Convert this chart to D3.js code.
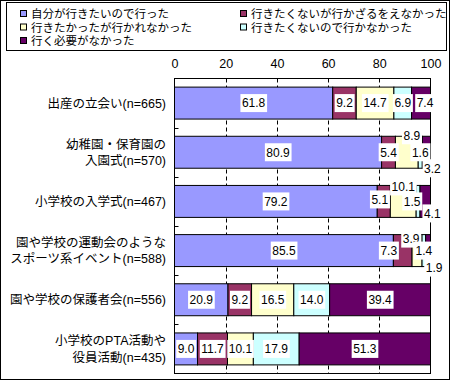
<!DOCTYPE html>
<html><head><meta charset="utf-8">
<script src="https://cdn.jsdelivr.net/npm/d3@7"></script>
<style>
html,body{margin:0;padding:0;background:#fff;}
svg{display:block;font-family:"Liberation Sans","Noto Sans CJK JP",sans-serif;}
</style></head>
<body>
<svg id="chart" width="450" height="380"></svg>
<script>
const categories = [
  "出産の立会い(n=665)",
  "幼稚園・保育園の\n入園式(n=570)",
  "小学校の入学式(n=467)",
  "園や学校の運動会のような\nスポーツ系イベント(n=588)",
  "園や学校の保護者会(n=556)",
  "小学校のPTA活動や\n役員活動(n=435)"
];
const seriesNames = [
  "自分が行きたいので行った",
  "行きたくないが行かざるをえなかった",
  "行きたかったが行かれなかった",
  "行きたくないので行かなかった",
  "行く必要がなかった"
];
const s1 = [61.8, 80.9, 79.2, 85.5, 20.9, 9.0];
const s2 = [9.2, 5.4, 5.1, 7.3, 9.2, 11.7];
const s3 = [14.7, 8.9, 10.1, 3.9, 16.5, 10.1];
const s4 = [6.9, 1.6, 1.5, 1.4, 14.0, 17.9];
const s5 = [7.4, 3.2, 4.1, 1.9, 39.4, 51.3];
const xTicks = [0, 20, 40, 60, 80, 100];
const colors = ["#9999FF", "#993366", "#FFFFCC", "#CCFFFF", "#660066"];

// manual label nudges (row-series -> [dx, dy]) for crowded segments
const nudges = {
  "0-4": [4, 0],
  "1-2": [5, -17], "1-4": [6, 16],
  "2-2": [0, -15], "2-3": [-6, 0], "2-4": [7, 12], "2-1": [-4, -2],
  "3-2": [-6, -12], "3-1": [-14, 0], "3-4": [6, 17]
};

const svg = d3.select("#chart");
const allSeries = [s1, s2, s3, s4, s5];

// outer frame
svg.append("rect").attr("x", 0.5).attr("y", 0.5).attr("width", 449).attr("height", 379)
  .attr("fill", "#fff").attr("stroke", "#000");

// legend
svg.append("rect").attr("x", 6.5).attr("y", 2.5).attr("width", 440).attr("height", 48)
  .attr("fill", "#fff").attr("stroke", "#000");
const legPos = [[20, 14], [240, 14], [20, 27.5], [240, 27.5], [20, 41]];
seriesNames.forEach((n, i) => {
  const g = svg.append("g").attr("transform", `translate(${legPos[i][0]},${legPos[i][1]})`);
  g.append("rect").attr("x", 0.5).attr("y", -3.5).attr("width", 6).attr("height", 6)
    .attr("fill", colors[i]).attr("stroke", "#000");
  g.append("text").attr("x", 11).attr("y", 0).attr("dy", "0.35em")
    .attr("font-size", "11.5px").attr("fill", "#000").text(n);
});

const x = d3.scaleLinear().domain([0, 100]).range([174.5, 430.5]);
const y = d3.scaleBand().domain(categories).range([78.5, 373.5]).paddingInner(0.35).paddingOuter(0.175);

// gridlines
svg.append("g").selectAll("line").data(xTicks.filter(t => t > 0 && t < 100)).join("line")
  .attr("x1", d => Math.round(x(d)) + 0.5).attr("x2", d => Math.round(x(d)) + 0.5)
  .attr("y1", 78.5).attr("y2", 373.5)
  .attr("stroke", "#000").attr("stroke-dasharray", "4,3");

// top axis labels
const ax = svg.append("g").attr("transform", "translate(0,78.5)")
  .call(d3.axisTop(x).tickValues(xTicks).tickSize(0).tickPadding(11));
ax.select(".domain").remove();
ax.selectAll("text").attr("font-size", "12.5px").attr("font-family", null).attr("fill", "#000");

// stacked bars
const rows = categories.map((c, i) => {
  let acc = 0;
  return allSeries.map((s, j) => {
    const r = {cat: c, row: i, ser: j, v: s[i], x0: acc, x1: acc + s[i]};
    acc += s[i];
    return r;
  });
}).flat();

svg.append("g").selectAll("rect").data(rows).join("rect")
  .attr("x", d => x(d.x0)).attr("width", d => x(d.x1) - x(d.x0))
  .attr("y", d => y(d.cat)).attr("height", y.bandwidth())
  .attr("fill", d => colors[d.ser]).attr("stroke", "#000").attr("stroke-width", 1);

// plot frame
svg.append("rect").attr("x", 174.5).attr("y", 78.5).attr("width", 256).attr("height", 295)
  .attr("fill", "none").attr("stroke", "#000");

// left ticks at category boundaries
const bounds = d3.range(1, categories.length).map(i => 78.5 + i * y.step());
svg.append("g").selectAll("line").data(bounds).join("line")
  .attr("x1", 174.5).attr("x2", 178.5)
  .attr("y1", d => Math.round(d) + 0.5).attr("y2", d => Math.round(d) + 0.5)
  .attr("stroke", "#000");

// data labels
const lg = svg.append("g");
rows.forEach(d => {
  const nd = nudges[d.row + "-" + d.ser] || [0, 0];
  const cx = (x(d.x0) + x(d.x1)) / 2 + nd[0];
  const cy = y(d.cat) + y.bandwidth() / 2 + nd[1];
  const g = lg.append("g");
  const t = g.append("text").attr("x", cx).attr("y", cy).attr("dy", "0.36em")
    .attr("text-anchor", "middle").attr("font-size", "12px").attr("fill", "#000")
    .text(d.v.toFixed(1));
  const bb = t.node().getBBox();
  g.insert("rect", "text").attr("x", bb.x - 1.5).attr("y", cy - 9).attr("width", bb.width + 3)
    .attr("height", 18).attr("fill", "#fff");
});

// category labels
categories.forEach(c => {
  const lines = c.split("\n");
  const cy = y(c) + y.bandwidth() / 2;
  const t = svg.append("text").attr("text-anchor", "end").attr("font-size", "12.5px").attr("fill", "#000");
  lines.forEach((ln, k) => {
    t.append("tspan").attr("x", 166).attr("y", cy + (k - (lines.length - 1) / 2) * 16.5)
      .attr("dy", "0.36em").text(ln);
  });
});
</script>
</body></html>
